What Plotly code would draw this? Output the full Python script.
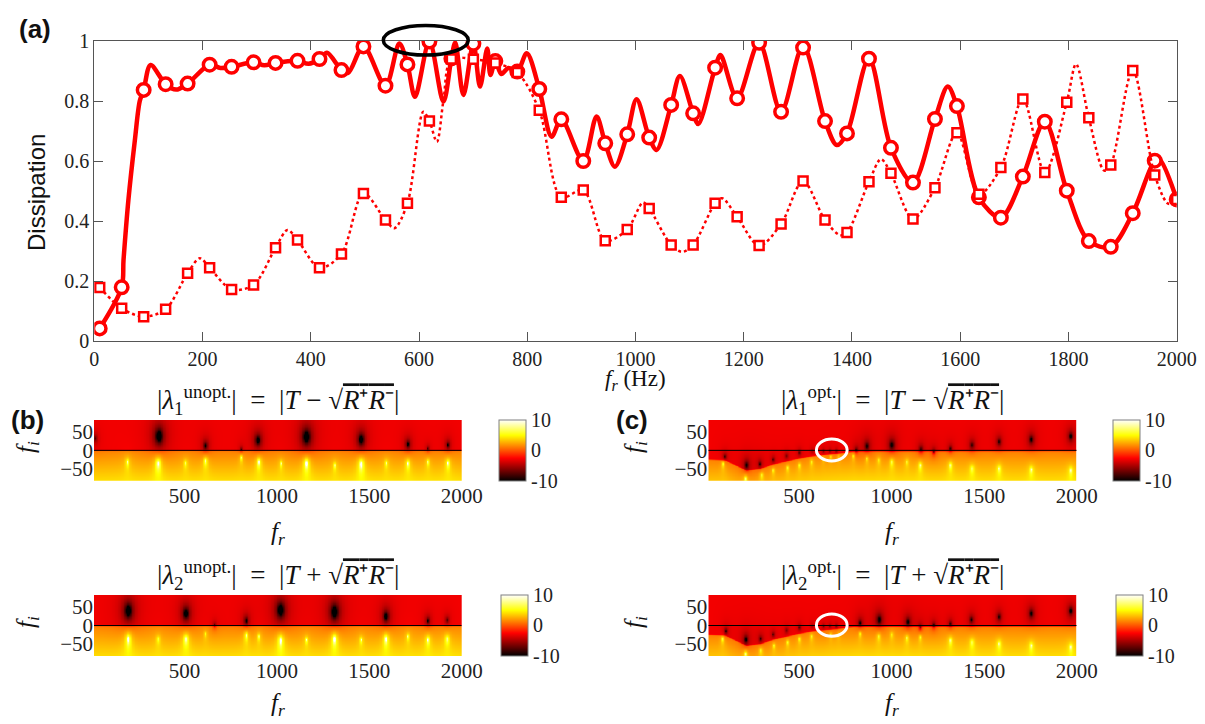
import numpy as np
import plotly.graph_objects as go

# ---------------- (a) dissipation data ----------------
f_markers = [10.0, 50.6, 91.2, 131.8, 172.4, 213.1, 253.7, 294.3, 334.9, 375.5,
             416.1, 456.7, 497.3, 538.0, 578.6, 619.2, 659.8, 700.4, 741.0, 781.6,
             822.2, 862.9, 903.5, 944.1, 984.7, 1025.3, 1065.9, 1106.5, 1147.1, 1187.8,
             1228.4, 1269.0, 1309.6, 1350.2, 1390.8, 1431.4, 1472.0, 1512.7, 1553.3, 1593.9,
             1634.5, 1675.1, 1715.7, 1756.3, 1796.9, 1837.6, 1878.2, 1918.8, 1959.4, 2000.0]
d_opt = [0.042, 0.179, 0.837, 0.856, 0.858, 0.921, 0.914, 0.929, 0.927, 0.934,
         0.940, 0.903, 0.982, 0.851, 0.922, 0.998, 0.942, 0.991, 0.933, 0.898,
         0.840, 0.739, 0.600, 0.659, 0.689, 0.678, 0.787, 0.759, 0.911, 0.809,
         0.994, 0.764, 0.978, 0.733, 0.692, 0.941, 0.644, 0.528, 0.740, 0.783,
         0.479, 0.411, 0.548, 0.731, 0.501, 0.333, 0.314, 0.426, 0.601, 0.472]
d_unopt = [0.178, 0.109, 0.081, 0.106, 0.226, 0.244, 0.172, 0.187, 0.311, 0.337,
           0.244, 0.290, 0.492, 0.403, 0.459, 0.733, 0.940, 0.939, 0.927, 0.895,
           0.769, 0.479, 0.503, 0.334, 0.372, 0.442, 0.320, 0.320, 0.459, 0.414,
           0.318, 0.390, 0.533, 0.403, 0.362, 0.531, 0.559, 0.407, 0.511, 0.694,
           0.489, 0.578, 0.807, 0.562, 0.796, 0.744, 0.587, 0.902, 0.553, 0.472]

# dense curves (markers plus the extrema read between them)
f_opt_line = [10, 50.6, 54, 63, 75, 84, 91.2, 104, 131.8, 151, 172.4, 213.1, 233, 253.7,
              294.3, 314, 334.9, 375.5, 396, 416.1, 430, 456.7, 469, 497.3, 538.0, 563.6,
              578.6, 592.6, 619.2, 645, 659.8, 667, 682, 700.4, 712.7, 726, 732, 741.0,
              752, 765, 781.6, 799, 822.2, 845, 862.9, 903.5, 928, 944.1, 962, 984.7,
              1002, 1025.3, 1039, 1065.9, 1082, 1106.5, 1116, 1147.1, 1157, 1187.8,
              1228.4, 1269.0, 1309.6, 1350.2, 1372, 1390.8, 1431.4, 1472.0, 1512.7,
              1553.3, 1577, 1593.9, 1634.5, 1675.1, 1715.7, 1756.3, 1796.9, 1837.6,
              1878.2, 1918.8, 1959.4, 1968, 2000]
d_opt_line = [0.042, 0.179, 0.27, 0.47, 0.67, 0.80, 0.837, 0.920, 0.856, 0.838, 0.858, 0.921,
              0.910, 0.914, 0.929, 0.919, 0.927, 0.934, 0.924, 0.940, 0.961, 0.903, 0.894,
              0.982, 0.851, 0.992, 0.922, 0.814, 0.998, 0.798, 0.942, 0.995, 0.820, 0.991,
              0.848, 0.975, 0.887, 0.933, 0.890, 0.910, 0.898, 0.959, 0.840, 0.681, 0.739,
              0.600, 0.748, 0.659, 0.581, 0.689, 0.806, 0.678, 0.637, 0.787, 0.883, 0.759,
              0.723, 0.911, 0.953, 0.809, 0.994, 0.764, 0.983, 0.733, 0.653, 0.692, 0.941,
              0.644, 0.528, 0.740, 0.848, 0.783, 0.479, 0.411, 0.548, 0.731, 0.501, 0.333,
              0.314, 0.426, 0.601, 0.606, 0.472]
f_unopt_line = [10, 50.6, 91.2, 131.8, 172.4, 195, 213.1, 253.7, 294.3, 334.9, 357, 375.5,
                416.1, 456.7, 497.3, 538.0, 554.5, 578.6, 608, 619.2, 633, 645, 659.8,
                700.4, 741.0, 781.6, 822.2, 862.9, 903.5, 944.1, 984.7, 1014, 1025.3,
                1065.9, 1086, 1106.5, 1147.1, 1160, 1187.8, 1228.4, 1269.0, 1309.6, 1350.2,
                1378, 1390.8, 1431.4, 1453.6, 1472.0, 1512.7, 1553.3, 1593.9, 1634.5,
                1675.1, 1715.7, 1756.3, 1796.9, 1814, 1837.6, 1866, 1878.2, 1918.8,
                1959.4, 1985, 2000]
d_unopt_line = [0.178, 0.109, 0.081, 0.106, 0.226, 0.276, 0.244, 0.172, 0.187, 0.311, 0.370,
                0.337, 0.244, 0.290, 0.492, 0.403, 0.376, 0.459, 0.764, 0.733, 0.664, 0.800,
                0.940, 0.939, 0.927, 0.895, 0.769, 0.479, 0.503, 0.334, 0.372, 0.462, 0.442,
                0.320, 0.297, 0.320, 0.459, 0.476, 0.414, 0.318, 0.390, 0.533, 0.403, 0.353,
                0.362, 0.531, 0.606, 0.559, 0.407, 0.511, 0.694, 0.489, 0.578, 0.807, 0.562,
                0.796, 0.923, 0.744, 0.568, 0.587, 0.902, 0.553, 0.457, 0.472]

x_ticks_a = [0, 200, 400, 600, 800, 1000, 1200, 1400, 1600, 1800, 2000]
y_ticks_a = [0, 0.2, 0.4, 0.6, 0.8, 1]
y_ticktext_a = ['0', '0.2', '0.4', '0.6', '0.8', '1']

# ---------------- (b),(c) complex-plane maps: zeros (dark) and poles (bright) ----------------
b1_zero_fr = [15, 360, 612, 805, 895, 1158, 1454, 1707, 1815, 1923]
b1_zero_fi = [33, 39, 13, 3, 28, 37, 30, 17, 5, 15]
b1_zero_w = [0.6, 1.3, 0.8, 0.5, 1.0, 1.3, 1.1, 0.8, 0.5, 0.7]
b1_pole_fr = [189, 355, 504, 612, 805, 900, 1021, 1158, 1312, 1454, 1591, 1707, 1815, 1923]
b1_pole_fi = [-31, -35, -34, -28, -19, -31, -35, -35, -40, -37, -34, -35, -31, -34]
b1_pole_w = [0.8, 1.2, 0.7, 0.9, 0.7, 1.0, 0.7, 1.2, 0.7, 1.2, 0.7, 0.9, 0.7, 0.9]

b2_zero_fr = [194, 506, 661, 832, 1018, 1310, 1589, 1815, 1919]
b2_zero_fi = [40, 33, 1, 13, 42, 37, 25, 13, 15]
b2_zero_w = [1.3, 1.1, 0.5, 0.8, 1.3, 1.3, 1.0, 0.7, 0.6]
b2_pole_fr = [194, 355, 506, 612, 832, 900, 1018, 1158, 1310, 1454, 1589, 1707, 1815, 1919]
b2_pole_fi = [-36, -36, -36, -22, -26, -29, -40, -38, -36, -38, -36, -29, -38, -36]
b2_pole_w = [1.2, 0.7, 1.1, 0.6, 0.9, 0.7, 1.2, 0.7, 1.2, 0.7, 1.1, 0.7, 0.9, 0.9]

c1_zero_fr = [97, 215, 287, 359, 431, 500, 570, 630, 665, 700, 807, 865, 1000, 1157, 1226, 1316, 1433, 1578, 1753, 1966]
c1_zero_fi = [-17, -40, -37, -25, -15, -6, -1, -1, -1, -1, 1, 12, 15, 3, -4, 5, 15, 24, 30, 39]
c1_zero_w = [0.6, 0.8, 0.6, 0.5, 0.5, 0.5, 0.4, 0.4, 0.4, 0.4, 0.6, 0.8, 0.9, 0.7, 0.6, 0.6, 0.7, 0.7, 0.8, 0.8]
c1_pole_fr = [88, 209, 296, 359, 437, 500, 567, 630, 670, 711, 792, 865, 928, 1000, 1081, 1153, 1316, 1433, 1578, 1753, 1966]
c1_pole_fi = [-36, -77, -67, -54, -47, -40, -31, -22, -17, -17, -15, -22, -26, -31, -31, -40, -40, -49, -49, -52, -54]
c1_pole_w = [0.7, 0.8, 0.7, 0.6, 0.6, 0.6, 0.6, 0.5, 0.5, 0.5, 0.6, 0.6, 0.6, 0.8, 0.6, 0.8, 0.8, 0.8, 0.8, 0.8, 0.8]

c2_zero_fr = [103, 211, 291, 359, 431, 500, 570, 630, 665, 700, 828, 931, 1087, 1153, 1226, 1316, 1430, 1578, 1753, 1966]
c2_zero_fi = [-15, -38, -36, -24, -13, -5, -1, -1, -1, -1, 7, 16, 10, -5, 1, 5, 16, 24, 33, 40]
c2_zero_w = [0.6, 0.8, 0.6, 0.5, 0.5, 0.5, 0.4, 0.4, 0.4, 0.4, 0.7, 0.9, 0.8, 0.6, 0.6, 0.6, 0.7, 0.7, 0.8, 0.8]
c2_pole_fr = [85, 209, 292, 363, 437, 500, 567, 670, 711, 828, 928, 1000, 1081, 1153, 1316, 1433, 1578, 1753, 1966]
c2_pole_fi = [-36, -77, -67, -54, -45, -36, -29, -24, -24, -22, -29, -24, -33, -31, -40, -45, -49, -54, -58]
c2_pole_w = [0.7, 0.8, 0.7, 0.6, 0.6, 0.6, 0.6, 0.5, 0.5, 0.6, 0.7, 0.6, 0.7, 0.6, 0.8, 0.8, 0.8, 0.8, 0.8]

# red/yellow boundary (below it the map is bright)
b_bnd_fr = [10, 2000]
b_bnd_fi = [-1, -1]
c_bnd_fr = [10, 100, 215, 290, 360, 430, 500, 570, 640, 720, 800, 2000]
c_bnd_fi = [-25, -27, -55, -50, -38, -30, -22, -16, -12, -8, -3, -2]

map_ticks_x = [500, 1000, 1500, 2000]
map_ticks_y = [-50, 0, 50]
cbar_ticks = [-10, 0, 10]
cbar_ticktext = ['-10', '0', '10']

grid_fr = np.arange(10, 2001, 4.0)
grid_fi = np.arange(-83, 83.5, 1.0)


def field(zfr, zfi, zw, pfr, pfi, pw, bfr, bfi):
    FR, FI = np.meshgrid(grid_fr, grid_fi)
    bnd = np.interp(grid_fr, bfr, bfi)[None, :]
    depth = np.clip(bnd - FI, 0, None)
    lower = 0.5 * (1 + np.tanh((bnd - FI) / 1.5))
    Z = -2.8 * (1 - lower) + lower * (1.4 + 2.7 * depth / 83.0)
    for a, b, w in zip(zfr, zfi, zw):
        d2 = (FR - a) ** 2 + (FI - b) ** 2
        Z = Z - 5.0 * w * 0.5 * np.log1p((28.0 * w) ** 2 / (d2 + 1.0))
    for a, b, w in zip(pfr, pfi, pw):
        dfi = FI - b
        dfi = np.where(dfi < 0, dfi * 0.6, dfi)
        d2 = (FR - a) ** 2 + dfi ** 2
        Z = Z + 3.8 * w * 0.5 * np.log1p((18.0 * w) ** 2 / (d2 + 1.0))
    return np.round(np.clip(Z, -10, 10), 2)


Z_b1 = field(b1_zero_fr, b1_zero_fi, b1_zero_w, b1_pole_fr, b1_pole_fi, b1_pole_w, b_bnd_fr, b_bnd_fi)
Z_b2 = field(b2_zero_fr, b2_zero_fi, b2_zero_w, b2_pole_fr, b2_pole_fi, b2_pole_w, b_bnd_fr, b_bnd_fi)
Z_c1 = field(c1_zero_fr, c1_zero_fi, c1_zero_w, c1_pole_fr, c1_pole_fi, c1_pole_w, c_bnd_fr, c_bnd_fi)
Z_c2 = field(c2_zero_fr, c2_zero_fi, c2_zero_w, c2_pole_fr, c2_pole_fi, c2_pole_w, c_bnd_fr, c_bnd_fi)

# ---------------- layout helpers (page has an 8px body margin) ----------------
OFF = 8
W, H = 1205 - OFF, 724 - OFF
def px(x):
    return (x - OFF) / W
def py(y):
    return 1 - (y - OFF) / H

SERIF = "Liberation Serif"
SANS = "Liberation Sans"
RED = "#ff0000"
hot = [[0.0, "rgb(0,0,0)"], [0.375, "rgb(255,0,0)"], [0.75, "rgb(255,255,0)"], [1.0, "rgb(255,255,255)"]]

fig = go.Figure()

# (a) curves: optimized (solid, circles) then unoptimized (dotted, squares)
fig.add_trace(go.Scatter(x=f_opt_line, y=d_opt_line, mode="lines",
                         line=dict(color=RED, width=4.5, shape="spline", smoothing=0.9),
                         xaxis="x", yaxis="y", showlegend=False, hoverinfo="skip"))
fig.add_trace(go.Scatter(x=f_markers, y=d_opt, mode="markers",
                         marker=dict(symbol="circle", size=12.5, color="white",
                                     line=dict(color=RED, width=3.5)),
                         xaxis="x", yaxis="y", showlegend=False))
fig.add_trace(go.Scatter(x=f_unopt_line, y=d_unopt_line, mode="lines",
                         line=dict(color=RED, width=2.5, dash="dot", shape="spline", smoothing=0.9),
                         xaxis="x", yaxis="y", showlegend=False, hoverinfo="skip"))
fig.add_trace(go.Scatter(x=f_markers, y=d_unopt, mode="markers",
                         marker=dict(symbol="square", size=9, color="white",
                                     line=dict(color=RED, width=2.5)),
                         xaxis="x", yaxis="y", showlegend=False))

# heatmaps
maps = [("x2", "y2", Z_b1, 499, 450.3), ("x3", "y3", Z_b2, 500.5, 625.3),
        ("x4", "y4", Z_c1, 1113.3, 450.3), ("x5", "y5", Z_c2, 1116, 625.3)]
for xa, ya, Z, cbx, cby in maps:
    fig.add_trace(go.Heatmap(x=grid_fr, y=grid_fi, z=Z, zmin=-10, zmax=10, colorscale=hot,
                             xaxis=xa, yaxis=ya, zsmooth="best", hoverinfo="skip",
                             colorbar=dict(x=px(cbx), xanchor="left", xpad=0, ypad=0,
                                           y=py(cby), yanchor="middle", len=61, lenmode="pixels",
                                           thickness=27, thicknessmode="pixels",
                                           outlinewidth=1, outlinecolor="#808080",
                                           tickvals=cbar_ticks, ticktext=cbar_ticktext, ticks="",
                                           tickfont=dict(family=SERIF, size=20, color="#222"))))

axis_font = dict(family=SERIF, size=20, color="#222")
map_font = dict(family=SERIF, size=21, color="#222")

layout_axes = dict(
    xaxis=dict(domain=[px(94.3), px(1176.7)], range=[0, 2000], tickvals=x_ticks_a,
               ticks="inside", ticklen=9, tickcolor="#555", showline=True, linecolor="#555",
               linewidth=1, mirror="ticks", showgrid=False, zeroline=False, tickfont=axis_font,
               anchor="y"),
    yaxis=dict(domain=[py(341), py(41)], range=[0, 1], tickvals=y_ticks_a, ticktext=y_ticktext_a,
               ticks="inside", ticklen=9, tickcolor="#555", showline=True, linecolor="#555",
               linewidth=1, mirror="ticks", showgrid=False, zeroline=False, tickfont=axis_font,
               anchor="x"),
)
map_dom = {"2": ([94, 461.7], [480.7, 420]), "3": ([94, 461.7], [656, 595]),
           "4": ([708.3, 1076.7], [480.7, 420]), "5": ([708.3, 1076.7], [656, 595])}
for k, (xd, yd) in map_dom.items():
    layout_axes["xaxis" + k] = dict(domain=[px(xd[0]), px(xd[1])], range=[10, 2000],
                                    tickvals=map_ticks_x, ticks="", showline=False, showgrid=False,
                                    zeroline=False, tickfont=map_font, anchor="y" + k)
    layout_axes["yaxis" + k] = dict(domain=[py(yd[0]), py(yd[1])], range=[-83, 83],
                                    tickvals=map_ticks_y, ticks="", showline=False, showgrid=False,
                                    zeroline=False, tickfont=map_font, anchor="x" + k)

fig.update_layout(width=W, height=H,
                  margin=dict(l=0, r=0, t=0, b=0, pad=0, autoexpand=False),
                  paper_bgcolor="white", plot_bgcolor="white", showlegend=False,
                  **layout_axes)

# shapes
ydom = layout_axes["yaxis"]["domain"]
def vpaper(v):
    return ydom[0] + v * (ydom[1] - ydom[0])

shapes = [dict(type="circle", xref="x", yref="paper", x0=534, x1=691, y0=vpaper(0.953), y1=vpaper(1.052),
               line=dict(color="black", width=3.5))]
for k in ["2", "3", "4", "5"]:
    shapes.append(dict(type="line", xref="x" + k, yref="y" + k, x0=10, x1=2000, y0=0, y1=0,
                       line=dict(color="black", width=1)))
for k in ["4", "5"]:
    shapes.append(dict(type="circle", xref="x" + k, yref="y" + k, x0=594, x1=760, y0=-29, y1=31,
                       line=dict(color="white", width=3)))
fig.update_layout(shapes=shapes)

sq = "√<span style='text-decoration:overline'><i>R</i>⁺<i>R</i>⁻</span>"
titles = [
    (277.9, 400, "|<i>λ</i><sub>1</sub><sup>unopt.</sup>|  =  |<i>T</i> − " + sq + "|"),
    (277.9, 575, "|<i>λ</i><sub>2</sub><sup>unopt.</sup>|  =  |<i>T</i> + " + sq + "|"),
    (892.5, 400, "|<i>λ</i><sub>1</sub><sup>opt.</sup>|  =  |<i>T</i> − " + sq + "|"),
    (892.5, 575, "|<i>λ</i><sub>2</sub><sup>opt.</sup>|  =  |<i>T</i> + " + sq + "|"),
]
ann = []
def add_text(x, y, t, font, angle=0):
    ann.append(dict(x=px(x), y=py(y), xref="paper", yref="paper", text=t, showarrow=False,
                    xanchor="center", yanchor="middle", textangle=angle, font=font))

for x, y, t in titles:
    add_text(x, y, t, dict(family=SERIF, size=27, color="#111"))
for x, y in [(278, 533), (278, 704), (892, 533), (892, 704)]:
    add_text(x, y, "<i>f</i><sub><i>r</i></sub>", dict(family=SERIF, size=25, color="#111"))
for x, y in [(27, 447), (27, 622), (635, 447), (635, 622)]:
    add_text(x, y, "<i>f</i><sub><i>i</i></sub>", dict(family=SERIF, size=25, color="#111"), -90)
add_text(36, 193, "Dissipation", dict(family=SANS, size=24, color="#111"), -90)
add_text(635, 380, "<i>f</i><sub><i>r</i></sub> (Hz)", dict(family=SERIF, size=23, color="#111"))
for x, y, t in [(35, 29, "(a)"), (27, 420, "(b)"), (632, 420, "(c)")]:
    add_text(x, y, "<b>" + t + "</b>", dict(family=SANS, size=26, color="#111"))
fig.update_layout(annotations=ann)

fig.write_html("out.html")
